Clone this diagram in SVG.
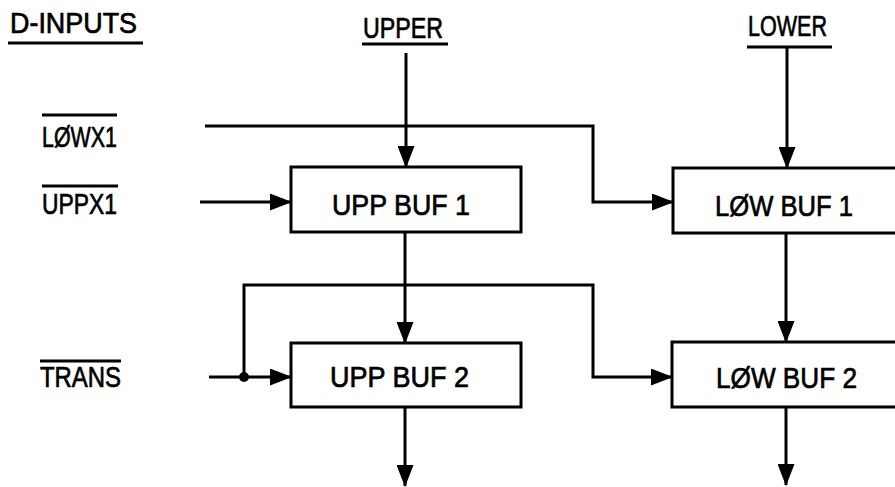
<svg xmlns="http://www.w3.org/2000/svg" width="895" height="487" viewBox="0 0 895 487">
<style>
  .t { font-family: "Liberation Sans", "DejaVu Sans", sans-serif; font-size: 29px; fill: #000; stroke: #000; stroke-width: 0.7px; }
  .ln { stroke: #000; stroke-width: 3; fill: none; }
  .box { stroke: #000; stroke-width: 3; fill: #fff; }
  .con { stroke: #000; stroke-width: 3; fill: none; stroke-linejoin: miter; }
</style>
<defs>
  <marker id="arr" markerUnits="userSpaceOnUse" markerWidth="22" markerHeight="17" refX="21" refY="8.5" orient="auto">
    <path d="M0,0 L22,8.5 L0,17 Z" fill="#000"/>
  </marker>
</defs>
<rect width="895" height="487" fill="#fff"/>

<g id="label-dinputs">
  <text class="t" x="10" y="33" textLength="127" lengthAdjust="spacingAndGlyphs">D-INPUTS</text>
  <line class="ln" x1="8" y1="43" x2="143" y2="43"/>
</g>
<g id="label-upper">
  <text class="t" x="363" y="38" textLength="80" lengthAdjust="spacingAndGlyphs">UPPER</text>
  <line class="ln" x1="362" y1="44" x2="448" y2="44"/>
</g>
<g id="label-lower">
  <text class="t" x="748" y="36" textLength="79" lengthAdjust="spacingAndGlyphs">LOWER</text>
  <line class="ln" x1="747" y1="47" x2="832" y2="47"/>
</g>
<g id="label-lowx1">
  <line class="ln" x1="42" y1="115" x2="117" y2="115"/>
  <text class="t" x="42" y="147" textLength="75" lengthAdjust="spacingAndGlyphs">LØWX1</text>
</g>
<g id="label-uppx1">
  <line class="ln" x1="42" y1="186" x2="118" y2="186"/>
  <text class="t" x="42" y="214" textLength="75" lengthAdjust="spacingAndGlyphs">UPPX1</text>
</g>
<g id="label-trans">
  <line class="ln" x1="40" y1="361" x2="121" y2="361"/>
  <text class="t" x="40" y="387" textLength="81" lengthAdjust="spacingAndGlyphs">TRANS</text>
</g>

<g id="connectors">
  <path class="con" d="M406,53 V167" marker-end="url(#arr)"/>
  <path class="con" d="M787,47 V168" marker-end="url(#arr)"/>
  <path class="con" d="M205,126 H593 V202 H673" marker-end="url(#arr)"/>
  <path class="con" d="M200,202 H291" marker-end="url(#arr)"/>
  <path class="con" d="M405,232 V343" marker-end="url(#arr)"/>
  <path class="con" d="M786,233 V342" marker-end="url(#arr)"/>
  <path class="con" d="M209,377 H291" marker-end="url(#arr)"/>
  <path class="con" d="M244,377 V285 H593 V377 H672" marker-end="url(#arr)"/>
  <path class="con" d="M405,407 V486" marker-end="url(#arr)"/>
  <path class="con" d="M786,407 V485" marker-end="url(#arr)"/>
  <circle cx="244" cy="377" r="5" fill="#000"/>
</g>

<g id="upp-buf-1">
  <rect class="box" x="291" y="167" width="230" height="65"/>
  <text class="t" x="332" y="215" textLength="138" lengthAdjust="spacingAndGlyphs">UPP BUF 1</text>
</g>
<g id="low-buf-1">
  <rect class="box" x="673" y="168" width="240" height="65"/>
  <text class="t" x="715" y="216" textLength="138" lengthAdjust="spacingAndGlyphs">LØW BUF 1</text>
</g>
<g id="upp-buf-2">
  <rect class="box" x="291" y="343" width="230" height="64"/>
  <text class="t" x="330" y="387" textLength="139" lengthAdjust="spacingAndGlyphs">UPP BUF 2</text>
</g>
<g id="low-buf-2">
  <rect class="box" x="672" y="342" width="240" height="65"/>
  <text class="t" x="716" y="388" textLength="141" lengthAdjust="spacingAndGlyphs">LØW BUF 2</text>
</g>
</svg>
